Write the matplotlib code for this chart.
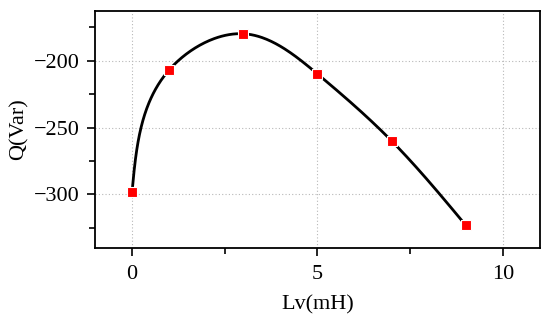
import numpy as np
import matplotlib
matplotlib.use("Agg")
import matplotlib.pyplot as plt
from matplotlib.ticker import MultipleLocator

# data
lv = [0, 1, 3, 5, 7, 9]
q = [-298, -207, -180, -210, -260, -323]

plt.rcParams['font.family'] = ['Liberation Serif', 'DejaVu Serif']
plt.rcParams['font.size'] = 16


def natural_spline(t, v, tt):
    # natural cubic spline through (t, v), evaluated at tt
    n = len(t)
    h = np.diff(t)
    A = np.zeros((n, n))
    b = np.zeros(n)
    A[0, 0] = A[-1, -1] = 1
    for i in range(1, n - 1):
        A[i, i - 1] = h[i - 1]
        A[i, i] = 2 * (h[i - 1] + h[i])
        A[i, i + 1] = h[i]
        b[i] = 3 * ((v[i + 1] - v[i]) / h[i] - (v[i] - v[i - 1]) / h[i - 1])
    c = np.linalg.solve(A, b)
    out = np.empty_like(tt)
    for k, x in enumerate(tt):
        i = min(np.searchsorted(t, x, side='right') - 1, n - 2)
        i = max(i, 0)
        dx = x - t[i]
        bi = (v[i + 1] - v[i]) / h[i] - h[i] * (2 * c[i] + c[i + 1]) / 3
        di = (c[i + 1] - c[i]) / (3 * h[i])
        out[k] = v[i] + bi * dx + c[i] * dx ** 2 + di * dx ** 3
    return out


# parametric spline in screen-like scale (px per unit)
xs = np.array(lv, float) * 37.0
ys = np.array(q, float) * 1.34
t = np.concatenate([[0], np.cumsum(np.hypot(np.diff(xs), np.diff(ys)))])
tt = np.linspace(0, t[-1], 400)
cx = natural_spline(t, xs, tt) / 37.0
cy = natural_spline(t, ys, tt) / 1.34

fig = plt.figure(figsize=(5.5, 3.23), dpi=100)
ax = fig.add_axes([0.1727, 0.232, 0.809, 0.734])

ax.plot(cx, cy, color='black', lw=2.0, zorder=2)
ax.plot(lv, q, ls='none', marker='s', ms=7.5, color='#ff0000',
        mec='white', mew=0.8, zorder=3)

ax.set_xlim(-1, 11)
ax.set_ylim(-340, -163)
ax.xaxis.set_major_locator(MultipleLocator(5))
ax.xaxis.set_minor_locator(MultipleLocator(2.5))
ax.yaxis.set_major_locator(MultipleLocator(50))
ax.yaxis.set_minor_locator(MultipleLocator(25))
ax.tick_params(which='both', direction='out', top=False, right=False, width=1.2)
ax.tick_params(which='major', length=6)
ax.tick_params(which='minor', length=4)
ax.tick_params(axis='x', which='major', pad=6.5)
ax.tick_params(axis='y', which='major', pad=5)
ax.grid(True, which='major', ls=(0, (1, 2)), color='#b8b8b8', lw=0.8)
for s in ax.spines.values():
    s.set_linewidth(1.3)

ax.set_xlabel('Lv(mH)', labelpad=8)
ax.set_ylabel('Q(Var)', labelpad=4)

fig.savefig('out.png', dpi=100)
